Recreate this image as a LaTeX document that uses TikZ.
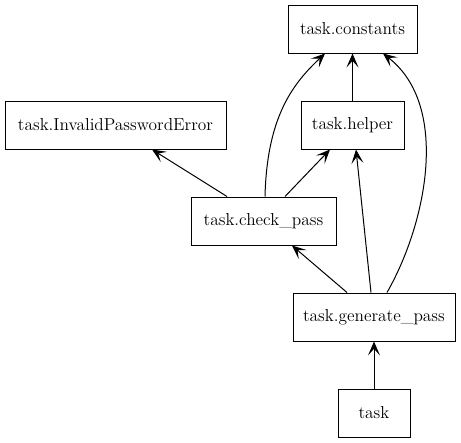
\documentclass[tikz,border=0pt]{standalone}
\usetikzlibrary{arrows.meta,calc}

\begin{document}
\begin{tikzpicture}[x=0.75pt, y=-0.75pt,
  modulo/.style={draw=black, line width=0.75pt, minimum height=36pt, inner sep=0pt, font=\fontsize{13}{15}\selectfont},
  dip/.style={-{Stealth[length=10.5pt, width=9pt, inset=5pt]}, line width=0.75pt}]

\useasboundingbox (0,0) rectangle (461,443);

% Moduli
\node[modulo, minimum width=96.75pt] (con) at (352.5,29) {task.constants};
\node[modulo, minimum width=77.25pt] (hlp) at (352.5,125) {task.helper};
\node[modulo, minimum width=165.75pt] (inv) at (115.5,125) {task.InvalidPasswordError};
\node[modulo, minimum width=108.75pt] (chk) at (263.5,221) {task.check\_pass};
\node[modulo, minimum width=121.5pt] (gen) at (374,317) {task.generate\_pass};
\node[modulo, minimum width=54pt] (tsk) at (374,413) {task};

% Dipendenze
\draw[dip] (hlp) -- (con);
\draw[dip] (tsk) -- (gen);

% check_pass
\draw[dip] ($(chk.north)+(-36.5,0)$) -- ($(inv.south)+(36.5,0)$);
\draw[dip] ($(chk.north)+(21.5,0)$) -- ($(hlp.south)+(-22.5,0)$);
\draw[dip] ($(chk.north)+(1.5,0)$) .. controls +(2,-80) and +(-32,30) .. ($(con.south)+(-27.5,0)$);

% generate_pass
\draw[dip] ($(gen.north)+(-27,0)$) -- ($(chk.south)+(28.5,0)$);
\draw[dip] ($(gen.north)+(-3,0)$) -- ($(hlp.south)+(3.5,0)$);
\draw[dip] ($(gen.north)+(13,0)$) .. controls +(40,-70) and +(67,52) .. ($(con.south)+(30.5,0)$);
\end{tikzpicture}
\end{document}
